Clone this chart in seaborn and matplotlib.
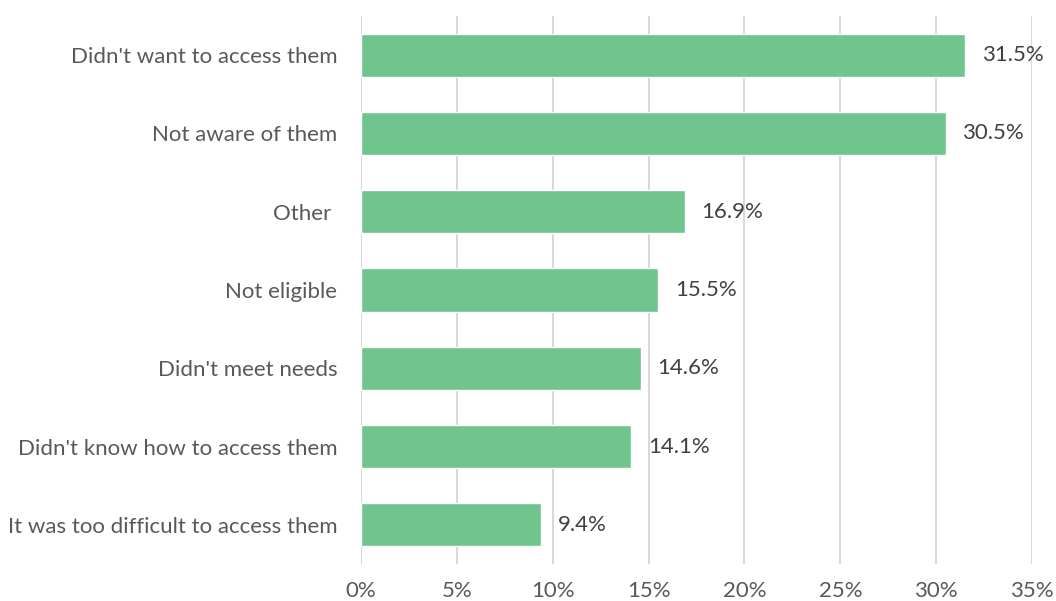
import matplotlib
matplotlib.use("Agg")
import matplotlib.pyplot as plt
import seaborn as sns
import pandas as pd

# Reasons for not accessing services, share of respondents (%)
reasons = [
    "Didn't want to access them",
    "Not aware of them",
    "Other ",
    "Not eligible",
    "Didn't meet needs",
    "Didn't know how to access them",
    "It was too difficult to access them",
]
shares = [31.5, 30.5, 16.9, 15.5, 14.6, 14.1, 9.4]
x_ticks = [0, 5, 10, 15, 20, 25, 30, 35]

df = pd.DataFrame({"reason": reasons, "share": shares})

sns.set_theme(style="white")
plt.rcParams["font.family"] = ["Lato", "DejaVu Sans"]

text_color = "#595959"
bar_color = "#70C48E"

fig = plt.figure(figsize=(10.56, 6.01), dpi=100)
ax = fig.add_axes([0.3419, 0.0616, 0.9773 - 0.3419, 0.9734 - 0.0616])

sns.barplot(data=df, x="share", y="reason", color=bar_color, width=0.55,
            saturation=1, ax=ax, zorder=3)

ax.set_xlim(0, 35)
ax.set_ylim(6.5, -0.5)
ax.set_xticks(x_ticks)
ax.set_xticklabels([f"{t}%" for t in x_ticks])
ax.grid(axis="x", color="#d9d9d9", linewidth=1.5, zorder=0)
ax.grid(axis="y", visible=False)
for s in ax.spines.values():
    s.set_visible(False)
ax.set_xlabel("")
ax.set_ylabel("")
ax.tick_params(axis="both", length=0, labelsize=16, colors=text_color)
ax.tick_params(axis="x", pad=12)
ax.tick_params(axis="y", pad=17)

for i, v in enumerate(shares):
    ax.annotate(f"{v}%", xy=(v, i), xytext=(12, 0), textcoords="offset points",
                va="center", ha="left", fontsize=16, color="#404040")

fig.savefig("out.png", dpi=100)
